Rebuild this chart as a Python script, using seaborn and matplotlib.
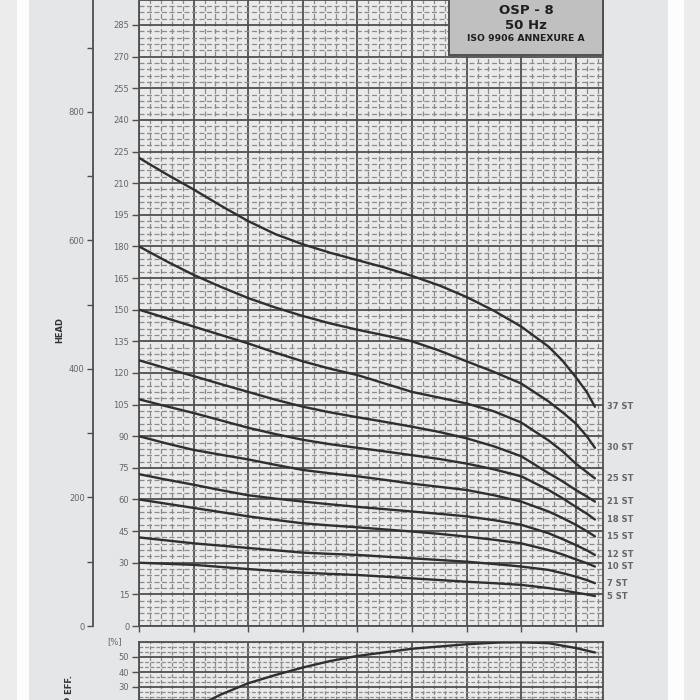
import numpy as np
import pandas as pd
import matplotlib
matplotlib.use("Agg")
import matplotlib.pyplot as plt
import seaborn as sns
from matplotlib.patches import Rectangle
from matplotlib.ticker import MultipleLocator, FixedLocator

# ---------------- data ----------------
flow = [0, 0.5, 1, 1.5, 2, 2.5, 3, 3.5, 4, 4.5, 5, 5.5, 6, 6.5, 7, 7.5, 7.75, 8, 8.2, 8.35]
stages = ["37 ST", "30 ST", "25 ST", "21 ST", "18 ST", "15 ST", "12 ST", "10 ST", "7 ST", "5 ST"]
head_37 = [222, 214.3, 207, 199.3, 192, 185.8, 181, 177, 173.5, 170, 166, 161.5, 156, 149.5, 142, 132.5, 126, 118, 111, 104]
head_30 = [180, 173, 166.5, 160.8, 155.5, 151, 147, 143.5, 140.5, 137.8, 135, 130.6, 125.5, 120.5, 115, 106.5, 101.5, 96, 90, 84.5]
head_25 = [150, 146, 142, 138, 134, 129.6, 125.5, 122, 119, 115, 111, 108.3, 105.5, 101.8, 96.5, 88, 83, 77, 73, 70]
head_21 = [126, 122.2, 118.5, 114.7, 111, 107.3, 104, 101.3, 99, 96.8, 94.5, 92, 89, 85.2, 80.5, 72.5, 68.7, 64.5, 61.4, 59]
head_18 = [107.5, 104.2, 101, 97.5, 94, 91, 88.3, 86.2, 84.5, 82.8, 81, 79.2, 77, 74.3, 71, 64.5, 60.7, 56.5, 53.3, 50.5]
head_15 = [90, 86.6, 83.5, 81.2, 79, 76.4, 74, 72.4, 71, 69.3, 67.5, 66, 64.5, 62, 59, 54.3, 51.3, 48, 45, 42.5]
head_12 = [72, 69.4, 67, 64.4, 62, 60.4, 59, 57.7, 56.5, 55.4, 54.3, 53.2, 52, 50.2, 48, 44, 41.3, 38.4, 35.9, 33.7]
head_10 = [60, 58, 56, 54, 52, 50.3, 48.7, 47.7, 46.8, 45.8, 44.8, 43.7, 42.4, 40.9, 39.2, 36, 34, 31.6, 29.8, 28.2]
head_7 = [42, 40.6, 39.2, 38.1, 37, 35.9, 34.8, 34.2, 33.7, 32.9, 32.1, 31.3, 30.5, 29.4, 28.2, 26.6, 25.1, 23.4, 21.8, 20.3]
head_5 = [30, 29.5, 29, 28, 27, 26.1, 25.3, 24.7, 24.2, 23.4, 22.6, 21.8, 21, 20.3, 19.5, 18, 17, 15.8, 15, 14.2]
heads = [head_37, head_30, head_25, head_21, head_18, head_15, head_12, head_10, head_7, head_5]

eff_flow = [1.0, 1.5, 2.0, 2.5, 3.0, 3.5, 4.0, 5.0, 6.0, 6.6, 7.0, 7.5, 8.0, 8.35]
eff_pct = [16, 25, 32.5, 38, 43, 47.3, 50.7, 55.5, 58.5, 59.7, 59.8, 59.2, 56, 53]

head_ticks_m = list(range(0, 300, 15))
head_ticks_ft = [0, 200, 400, 600, 800]
eff_ticks = [30, 40, 50]
title_lines = ["OSP - 8", "50 Hz", "ISO 9906 ANNEXURE A"]

# ---------------- styling ----------------
sns.set_theme(style="white")
plt.rcParams['font.family'] = ['DejaVu Sans']

PANEL = '#e5e6e8'
PLOTBG = '#eaeaea'
MAJ = '#4f4f4f'
MINC = '#8c8c8c'
CURVE = '#2f2f2f'
TXT = '#666666'

W = H = 700.0
def fx(px): return px / W
def fy(py): return 1 - py / H

fig = plt.figure(figsize=(7, 7), dpi=100, facecolor=PANEL)

for x0, x1, c in [(0, 16.7, '#ececec'), (16.7, 28.7, '#fdfdfd'),
                  (667.7, 683.7, '#fdfdfd'), (683.7, 700, '#ececec')]:
    fig.add_artist(Rectangle((fx(x0), 0), fx(x1) - fx(x0), 1, transform=fig.transFigure,
                             facecolor=c, edgecolor='none', zorder=0))

PX_PER_UNIT = 54.6
PX_PER_M = 2.1088
XL, XR = 139.0, 602.7
xmax = (XR - XL) / PX_PER_UNIT

# ---------------- main head chart ----------------
ax = fig.add_axes([fx(XL), fy(626), fx(XR) - fx(XL), 626 / H])
ax.set_facecolor(PLOTBG)
df = pd.DataFrame({
    'flow': np.tile(flow, len(stages)),
    'head': np.concatenate(heads),
    'stage': np.repeat(stages, len(flow)),
})
sns.lineplot(data=df, x='flow', y='head', units='stage', estimator=None,
             color=CURVE, lw=1.7, ax=ax, legend=False, sort=False, zorder=5)
ax.set_xlim(0, xmax)
ax.set_ylim(0, 626 / PX_PER_M)
ax.xaxis.set_major_locator(MultipleLocator(1))
ax.xaxis.set_minor_locator(MultipleLocator(0.2))
ax.yaxis.set_major_locator(FixedLocator(head_ticks_m))
ax.yaxis.set_minor_locator(MultipleLocator(3))
ax.set_axisbelow(True)
ax.grid(which='major', color=MAJ, lw=1.3)
ax.grid(which='minor', color=MINC, lw=0.9, ls=(0, (4, 2)))
ax.tick_params(axis='y', which='major', direction='out', length=5, width=1, color=MAJ,
               labelsize=6, labelcolor=TXT, pad=2, left=True)
ax.tick_params(axis='x', which='major', direction='out', length=4, width=1, color=MAJ,
               labelbottom=False, bottom=True)
ax.tick_params(which='minor', length=0)
ax.set_xlabel('')
ax.set_ylabel('')
for s in ax.spines.values():
    s.set_color(MAJ)
    s.set_linewidth(1.3)

for lab, h in zip(stages, heads):
    ax.annotate(lab, xy=(1, h[-1]), xycoords=('axes fraction', 'data'),
                xytext=(3.3, 0), textcoords='offset points', va='center', ha='left',
                fontsize=6, color=TXT, fontweight='bold', annotation_clip=False)

# secondary head axis in feet
sec = ax.secondary_yaxis((93 - XL) / (XR - XL),
                         functions=(lambda m: m * 3.28084, lambda f: f / 3.28084))
sec.yaxis.set_major_locator(FixedLocator(head_ticks_ft))
sec.yaxis.set_minor_locator(FixedLocator([100, 300, 500, 700, 900]))
sec.tick_params(which='both', direction='out', length=4, width=1, color=MAJ,
                labelsize=6, labelcolor=TXT, pad=2)
for s in sec.spines.values():
    s.set_color(MAJ)
    s.set_linewidth(1.3)

fig.text(fx(60), fy(330), 'HEAD', rotation=90, fontsize=6, fontweight='bold',
         color='#333333', ha='center', va='center')

# ---------------- efficiency chart ----------------
ax2 = fig.add_axes([fx(XL), 0, fx(XR) - fx(XL), (H - 642) / H])
ax2.set_facecolor(PLOTBG)
sns.lineplot(x=eff_flow, y=eff_pct, ax=ax2, color=CURVE, lw=1.7, zorder=5)
ax2.set_xlim(0, xmax)
ax2.set_ylim(60 - 58 / 1.5, 60)
ax2.xaxis.set_major_locator(MultipleLocator(1))
ax2.xaxis.set_minor_locator(MultipleLocator(0.2))
ax2.yaxis.set_major_locator(FixedLocator(eff_ticks))
ax2.yaxis.set_minor_locator(MultipleLocator(10 / 3))
ax2.set_axisbelow(True)
ax2.grid(which='major', color=MAJ, lw=1.3)
ax2.grid(which='minor', color=MINC, lw=0.9, ls=(0, (3, 1.5)))
ax2.tick_params(axis='y', which='major', direction='out', length=5, width=1, color=MAJ,
                labelsize=6, labelcolor=TXT, pad=2, left=True)
ax2.tick_params(axis='x', which='major', length=0, labelbottom=False)
ax2.tick_params(which='minor', length=0)
for s in ax2.spines.values():
    s.set_color(MAJ)
    s.set_linewidth(1.3)

fig.text(fx(115), fy(642), '[%]', fontsize=6, color=TXT, ha='center', va='center')
fig.text(fx(70), fy(675), 'PUMP EFF.', rotation=90, fontsize=6, fontweight='bold',
         color='#333333', ha='center', va='top')

# ---------------- title box ----------------
fig.add_artist(Rectangle((fx(449), fy(55)), fx(602.7) - fx(449), 60 / H,
                         transform=fig.transFigure, facecolor='#c0c0c0',
                         edgecolor=MAJ, lw=1.4, zorder=10))
cx = fx(526)
fig.text(cx, fy(10.5), title_lines[0], fontsize=9.5, fontweight='bold', color='#1e1e1e',
         ha='center', va='center', zorder=11)
fig.text(cx, fy(25.5), title_lines[1], fontsize=9.5, fontweight='bold', color='#1e1e1e',
         ha='center', va='center', zorder=11)
fig.text(cx, fy(38.5), title_lines[2], fontsize=6.7, fontweight='bold', color='#1e1e1e',
         ha='center', va='center', zorder=11)

fig.savefig('out.png', dpi=100, facecolor=PANEL)
